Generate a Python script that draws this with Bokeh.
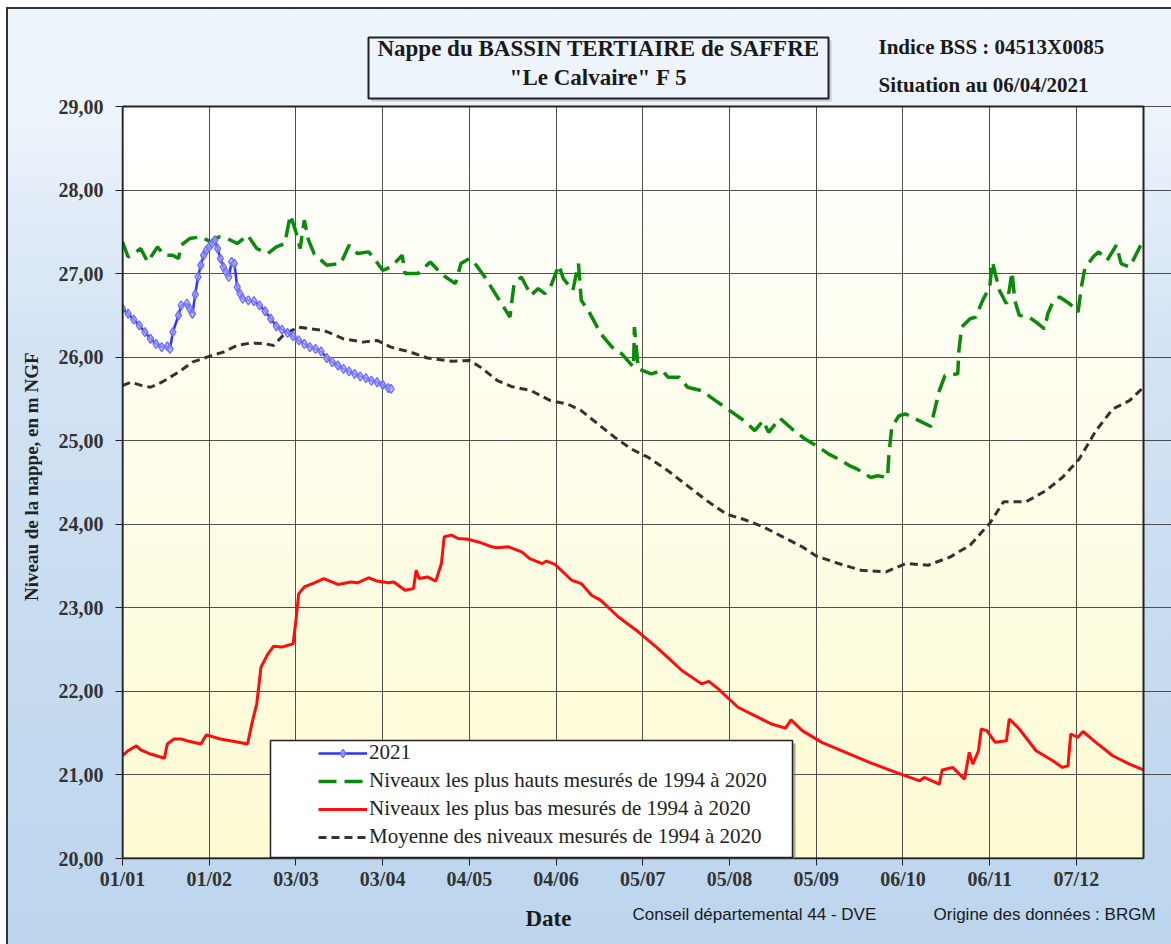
from bokeh.plotting import figure
from bokeh.layouts import column
from bokeh.models import FixedTicker, Label, BoxAnnotation, Legend, LegendItem, Range1d
from bokeh.embed import file_html
from bokeh.resources import INLINE

# ---------------- data ----------------
tick_days = [0, 31, 62, 93, 124, 155, 186, 217, 248, 279, 310, 341]
tick_labels = ["01/01", "01/02", "03/03", "03/04", "04/05", "04/06",
               "05/07", "05/08", "05/09", "06/10", "06/11", "07/12"]
y_ticks = [20, 21, 22, 23, 24, 25, 26, 27, 28, 29]
y_tick_labels = ["20,00", "21,00", "22,00", "23,00", "24,00",
                 "25,00", "26,00", "27,00", "28,00", "29,00"]

# 2021 measurements
days_2021 = [0, 2, 4, 6, 8, 10, 12, 14, 16, 17, 18, 20, 21, 23, 24, 25, 26, 27,
             28, 29, 30, 31, 32, 33, 34, 35, 36, 37, 38, 39, 40, 41, 42, 43, 45,
             47, 49, 51, 53, 55, 57, 59, 61, 63, 65, 67, 69, 71, 73, 75, 77, 79,
             81, 83, 85, 87, 89, 91, 93, 95, 96]
vals_2021 = [26.58, 26.52, 26.45, 26.38, 26.30, 26.22, 26.16, 26.12, 26.13, 26.10,
             26.30, 26.50, 26.62, 26.64, 26.58, 26.52, 26.75, 26.96, 27.10, 27.22,
             27.28, 27.32, 27.36, 27.40, 27.30, 27.18, 27.08, 27.02, 26.96, 27.14,
             27.12, 26.84, 26.76, 26.70, 26.68, 26.67, 26.62, 26.55, 26.46, 26.37,
             26.33, 26.29, 26.25, 26.20, 26.16, 26.12, 26.10, 26.07, 25.99, 25.94,
             25.90, 25.86, 25.83, 25.80, 25.77, 25.75, 25.72, 25.70, 25.67, 25.63,
             25.62]

# highest levels 1994-2020
days_max = [0, 2, 4, 6.5, 9, 12.5, 15, 18, 20, 21, 24, 28, 31.5, 34.5, 37.5, 41,
            44.7, 48, 52, 55, 58, 60, 62, 63.5, 65, 66.5, 68.5, 73, 78, 81, 84, 88,
            90, 93, 96, 100, 101, 105.6, 110, 114.6, 119, 121, 124, 126.5, 129.5,
            134, 138.5, 140, 142.6, 146, 148.6, 151, 153, 156, 157.6, 161, 163, 164,
            166.5, 171, 175, 178.5, 182.7, 183, 184.4, 189, 193, 195, 199, 202, 207,
            212, 218, 223, 226, 229, 231, 235, 239.4, 244, 249, 252.5, 256, 260,
            262.7, 267.5, 270, 273.5, 274, 275, 277.6, 280, 283.6, 289, 290, 292,
            294, 298.6, 299, 300, 303, 305, 307.5, 310, 311, 312, 313.5, 316, 317,
            318, 319, 320.6, 324, 326.6, 329.6, 330.8, 332.6, 335, 338.6, 341.6,
            342.8, 344, 347, 349, 352, 355.3, 357, 360, 361, 363.7, 365]
vals_max = [27.38, 27.20, 27.24, 27.30, 27.14, 27.32, 27.22, 27.22, 27.18, 27.34,
            27.42, 27.44, 27.38, 27.44, 27.42, 27.36, 27.46, 27.30, 27.24, 27.32,
            27.36, 27.70, 27.50, 27.30, 27.64, 27.40, 27.24, 27.10, 27.12, 27.34,
            27.24, 27.26, 27.18, 27.04, 27.08, 27.22, 27.00, 27.00, 27.14, 26.98,
            26.88, 27.12, 27.18, 27.10, 26.96, 26.72, 26.48, 26.88, 26.96, 26.74,
            26.82, 26.76, 26.84, 27.10, 26.94, 26.80, 27.12, 26.68, 26.56, 26.28,
            26.12, 26.04, 25.88, 26.36, 25.86, 25.80, 25.84, 25.76, 25.76, 25.64,
            25.60, 25.48, 25.34, 25.22, 25.12, 25.24, 25.10, 25.27, 25.14, 25.02,
            24.92, 24.84, 24.78, 24.70, 24.66, 24.56, 24.58, 24.56, 24.84, 25.16,
            25.30, 25.32, 25.26, 25.17, 25.32, 25.60, 25.78, 25.80, 26.08, 26.36,
            26.46, 26.48, 26.68, 26.84, 27.14, 27.00, 26.80, 26.64, 26.80, 27.02,
            26.68, 26.50, 26.48, 26.42, 26.34, 26.52, 26.66, 26.72, 26.64, 26.54,
            26.84, 27.06, 27.20, 27.26, 27.16, 27.34, 27.12, 27.08, 27.14, 27.32,
            27.40]

# lowest levels 1994-2020
days_min = [0, 2, 5, 6.5, 10, 15, 16, 18.4, 21, 23, 28, 30, 35, 40, 44.7, 46.5,
            48, 49.5, 52, 54, 57, 61, 62, 63, 65, 68.6, 72, 77, 81.7, 84, 88, 91,
            95, 97, 101, 104, 105, 106, 109, 112, 114, 115, 117.6, 120, 123.5, 128,
            132, 134, 138, 142.7, 145.6, 150, 151.6, 154.6, 160.6, 164, 167.7, 171,
            177.3, 184.5, 191.6, 200, 207, 209.6, 213, 220, 226, 232, 237, 239, 243,
            250, 257, 267, 276.5, 285, 286.6, 292, 293, 296.8, 301, 302.7, 304, 306,
            307, 309, 312, 316, 317, 320.6, 326.6, 332.6, 336, 338, 339, 341.6,
            343.4, 348, 354, 360, 365]
vals_min = [21.23, 21.29, 21.35, 21.30, 21.25, 21.20, 21.37, 21.43, 21.43, 21.41,
            21.37, 21.48, 21.43, 21.40, 21.37, 21.65, 21.85, 22.29, 22.45, 22.54,
            22.53, 22.57, 22.85, 23.17, 23.25, 23.30, 23.35, 23.28, 23.31, 23.30,
            23.36, 23.32, 23.30, 23.31, 23.21, 23.23, 23.45, 23.35, 23.37, 23.32,
            23.53, 23.85, 23.87, 23.83, 23.82, 23.78, 23.73, 23.72, 23.73, 23.67,
            23.59, 23.53, 23.56, 23.52, 23.33, 23.29, 23.15, 23.09, 22.89, 22.71,
            22.51, 22.25, 22.09, 22.12, 22.03, 21.81, 21.71, 21.61, 21.56, 21.66,
            21.53, 21.39, 21.29, 21.15, 21.03, 20.93, 20.97, 20.89, 21.06, 21.09,
            20.95, 21.27, 21.13, 21.29, 21.55, 21.53, 21.39, 21.41, 21.67, 21.55,
            21.29, 21.17, 21.09, 21.11, 21.49, 21.45, 21.52, 21.39, 21.23, 21.13,
            21.06]

# mean levels 1994-2020
days_mean = [0, 3, 7, 10, 14, 20, 25, 31, 36, 41, 46, 51, 54, 58, 63, 67, 72, 79,
             86, 91, 96, 103, 109, 118, 124, 128, 134, 139, 146, 153, 159, 164, 170,
             176, 182, 188, 195, 202, 209, 216, 222, 229, 236, 243, 248, 256, 264,
             273, 280, 288, 296, 303, 310, 315, 323, 330, 336, 342, 348, 354, 360,
             365]
vals_mean = [25.66, 25.70, 25.66, 25.64, 25.70, 25.82, 25.94, 26.01, 26.06, 26.14,
             26.17, 26.16, 26.14, 26.28, 26.36, 26.34, 26.32, 26.22, 26.18, 26.20,
             26.12, 26.06, 25.99, 25.95, 25.96, 25.88, 25.72, 25.65, 25.60, 25.48,
             25.44, 25.36, 25.20, 25.04, 24.90, 24.80, 24.64, 24.46, 24.28, 24.12,
             24.06, 23.97, 23.85, 23.73, 23.62, 23.53, 23.45, 23.43, 23.53, 23.51,
             23.61, 23.75, 24.01, 24.27, 24.27, 24.40, 24.56, 24.78, 25.12, 25.38,
             25.48, 25.64]

legend_labels = ["2021",
                 "Niveaux les plus hauts mesurés de 1994 à 2020",
                 "Niveaux les plus bas mesurés de 1994 à 2020",
                 "Moyenne des niveaux mesurés de 1994 à 2020"]

SERIF = "Liberation Serif"
SANS = "Liberation Sans"
TOP_BG = "#eef4fb"
NBSP = "\u00a0"

# ---------------- geometry (page pixels) ----------------
OX, OY = 8, 9                 # canvas origin on the page
W = 1171 - OX
PLOT_L, PLOT_T, PLOT_R, PLOT_B = 122, 106, 1143, 858
MAIN_BOTTOM = 894              # main figure ends here, footer below
FW = PLOT_R - PLOT_L
px_day = FW / 365.0
px_val = (PLOT_B - PLOT_T) / 9.0
x_max = (1171 - PLOT_L) / px_day      # frame reaches the right edge of the canvas
y_top = 20 + (PLOT_B - OY) / px_val   # frame reaches the top of the canvas


def xd(px):
    return (px - PLOT_L) / px_day


def yd(py):
    return 29 + (PLOT_T - py) / px_val


p = figure(width=W, height=MAIN_BOTTOM - OY, x_range=(0, x_max), y_range=(20, y_top),
           output_backend="svg", toolbar_location=None,
           min_border_left=PLOT_L - OX, min_border_right=0,
           min_border_top=0, min_border_bottom=MAIN_BOTTOM - PLOT_B)
p.background_fill_color = None
p.border_fill_color = None
p.outline_line_color = None

for ax in (p.xaxis, p.yaxis):
    ax.axis_line_color = "#222"
    ax.axis_line_width = 1.5
    ax.major_tick_line_color = "#222"
    ax.major_tick_in = 0
    ax.major_tick_out = 7
    ax.minor_tick_line_color = None
    ax.major_label_text_font = SERIF
    ax.major_label_text_font_style = "bold"
    ax.major_label_text_font_size = "20px"
    ax.major_label_text_color = "#333"

p.xaxis.ticker = FixedTicker(ticks=tick_days)
p.xaxis.bounds = (0, 365)
p.xaxis.major_label_overrides = {d: t for d, t in zip(tick_days, tick_labels)}
p.xaxis.major_label_standoff = 2
p.yaxis.ticker = FixedTicker(ticks=y_ticks)
p.yaxis.bounds = (20, 29)
p.yaxis.major_label_overrides = {v: t for v, t in zip(y_ticks, y_tick_labels)}
p.yaxis.major_label_standoff = 12
# the label is centred on the whole frame; trailing no-break spaces move it
# down to the middle of the 20-29 scale
p.yaxis.axis_label = "Niveau de la nappe, en m NGF" + NBSP * 18
p.yaxis.axis_label_text_font = SERIF
p.yaxis.axis_label_text_font_style = "bold"
p.yaxis.axis_label_text_font_size = "19px"
p.yaxis.axis_label_text_color = "#222"
p.yaxis.axis_label_standoff = 14

p.xgrid.ticker = FixedTicker(ticks=tick_days)
p.ygrid.ticker = FixedTicker(ticks=y_ticks)
for g in (p.xgrid, p.ygrid):
    g.grid_line_color = "#3c3c3c"
    g.grid_line_alpha = 0.9
    g.grid_line_width = 1

# ---------------- series ----------------
r_mean = p.line(days_mean, vals_mean, line_color="#333333", line_width=3, line_dash="8 5")
r_max = p.line(days_max, vals_max, line_color="#0a8a0a", line_width=3.5, line_dash="18 8")
r_min = p.line(days_min, vals_min, line_color="#ff0d0d", line_width=3)
r_b_line = p.line(days_2021, vals_2021, line_color="#3030ff", line_width=2.5)
r_b_pts = p.scatter(days_2021, vals_2021, marker="diamond", size=9,
                    line_color="#7070ff", line_width=1.5,
                    fill_color="#c4c4ff", fill_alpha=0.6)

# header band above the plot area (hides the grid lines there)
p.add_layout(BoxAnnotation(left=0, right=365, bottom=29, top=y_top,
                           fill_color=TOP_BG, fill_alpha=1.0, line_alpha=0))
# plot area border
p.add_layout(BoxAnnotation(left=0, right=365, bottom=20, top=29,
                           fill_alpha=0, line_color="#222", line_alpha=1.0, line_width=2))

# ---------------- legend ----------------
p.add_layout(BoxAnnotation(left=xd(273), right=xd(795), top=yd(743), bottom=yd(860),
                           fill_color="#777777", fill_alpha=0.6, line_alpha=0))
p.add_layout(BoxAnnotation(left=xd(270), right=xd(792), top=yd(740), bottom=yd(857),
                           fill_color="white", fill_alpha=1.0,
                           line_color="#222", line_alpha=1.0, line_width=1.5))

legend = Legend(items=[
    LegendItem(label=legend_labels[0], renderers=[r_b_line, r_b_pts]),
    LegendItem(label=legend_labels[1], renderers=[r_max]),
    LegendItem(label=legend_labels[2], renderers=[r_min]),
    LegendItem(label=legend_labels[3], renderers=[r_mean]),
], location=(196, 9), padding=0, margin=0, spacing=3,
    label_height=20, glyph_height=20, glyph_width=49, label_standoff=2,
    background_fill_alpha=0, border_line_alpha=0,
    label_text_font=SERIF, label_text_font_size="21px", label_text_color="#222")
p.add_layout(legend)

# ---------------- header: title box and station texts ----------------
p.add_layout(BoxAnnotation(left=xd(371), right=xd(831), top=yd(40), bottom=yd(101),
                           fill_color="#9aa6b4", fill_alpha=0.5, line_alpha=0))
p.add_layout(BoxAnnotation(left=xd(368), right=xd(828), top=yd(37), bottom=yd(98),
                           fill_color=TOP_BG, fill_alpha=1.0,
                           line_color="#222", line_alpha=1.0, line_width=2))
header = [
    ("Nappe du BASSIN TERTIAIRE de SAFFRE", 598, 48, "center", "23px"),
    ('"Le Calvaire" F 5', 598, 77, "center", "23px"),
    ("Indice BSS : 04513X0085", 878, 46, "left", "21px"),
    ("Situation au 06/04/2021", 878, 84, "left", "21px"),
]
for t, x, y, al, sz in header:
    p.add_layout(Label(x=xd(x), y=yd(y), text=t, text_align=al, text_baseline="middle",
                       text_font=SERIF, text_font_style="bold", text_font_size=sz,
                       text_color="#1a1a1a"))

# ---------------- footer figure (same horizontal frame as the chart) ----------------
FH_FOOT = 944 - MAIN_BOTTOM
f = figure(width=W, height=FH_FOOT, x_range=Range1d(0, x_max), y_range=Range1d(FH_FOOT, 0),
           output_backend="svg", toolbar_location=None,
           x_axis_type=None, y_axis_type=None,
           min_border_left=PLOT_L - OX, min_border_right=0,
           min_border_top=0, min_border_bottom=0)
f.background_fill_color = None
f.border_fill_color = None
f.outline_line_color = None
f.xgrid.visible = False
f.ygrid.visible = False
footer = [
    ("Date", 548, 918, "center", SERIF, "bold", "23px"),
    ("Conseil départemental 44 - DVE", 632, 914, "left", SANS, "normal", "17px"),
    ("Origine des données : BRGM", 933, 914, "left", SANS, "normal", "17px"),
]
for t, x, y, al, fnt, sty, sz in footer:
    f.add_layout(Label(x=xd(x), y=y - MAIN_BOTTOM, text=t, text_align=al,
                       text_baseline="middle", text_font=fnt, text_font_style=sty,
                       text_font_size=sz, text_color="#1a1a1a"))

layout = column(p, f, spacing=0)
layout.styles = {
    "margin": "7px 0 0 6px",
    "background": ("linear-gradient(#ffffff, #fdfbd2) %dpx %dpx / %dpx %dpx no-repeat, "
                   "linear-gradient(%s 0px, %s %dpx, #d3e3f4 330px, #bcd5ed 100%%)")
                  % (PLOT_L - OX, PLOT_T - OY, FW, PLOT_B - PLOT_T,
                     TOP_BG, TOP_BG, PLOT_T - OY),
    "border-left": "2px solid #333",
    "border-top": "2px solid #333",
}

open("out.html", "w").write(file_html(layout, INLINE))
